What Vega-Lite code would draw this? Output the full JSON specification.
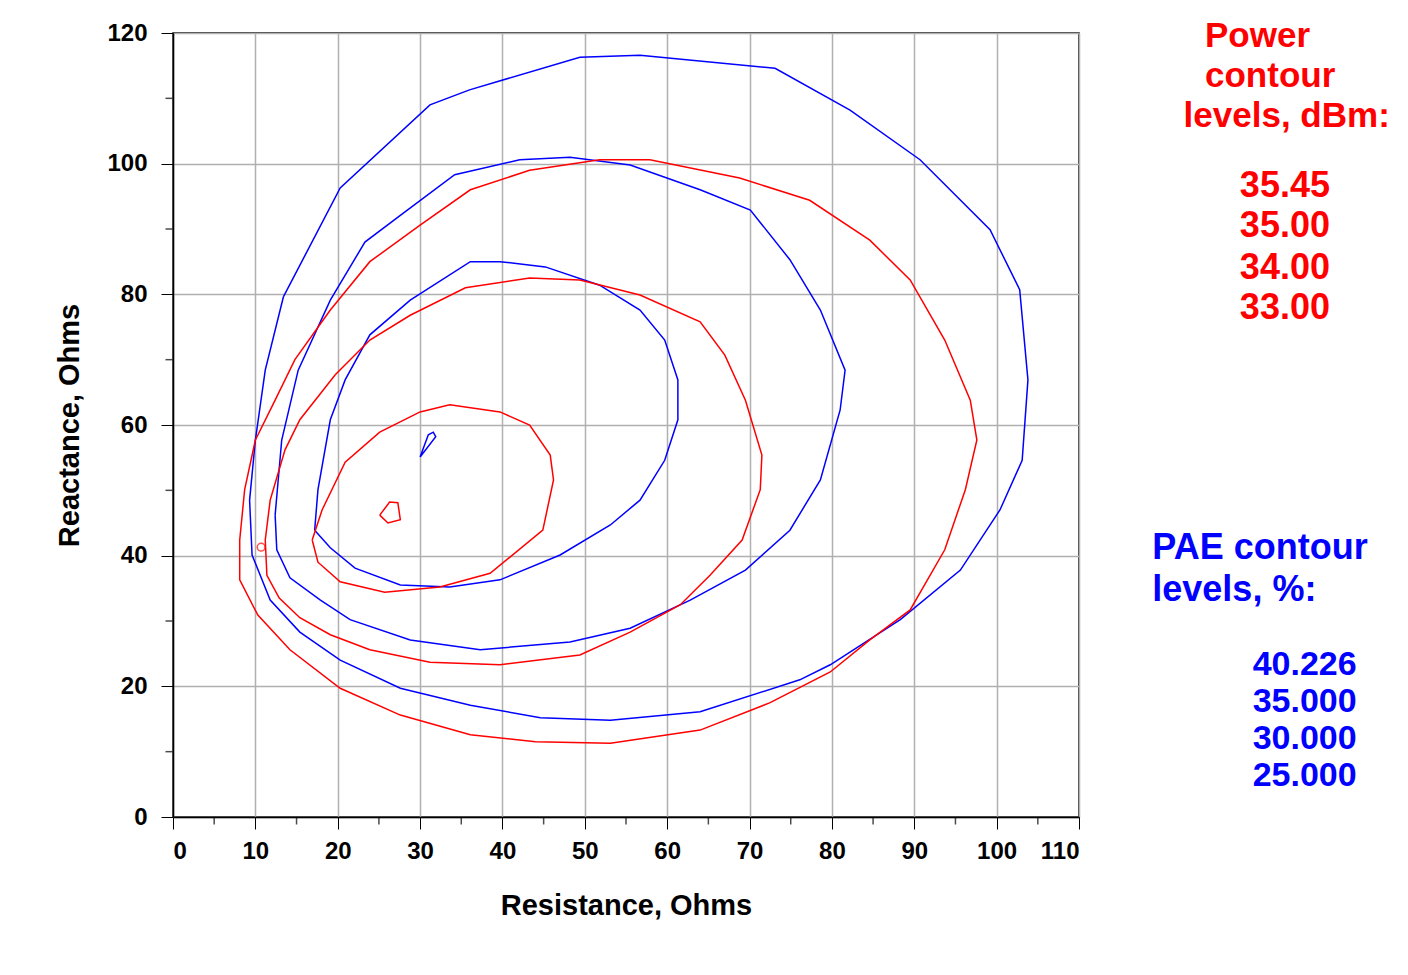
{
"$schema":"https://vega.github.io/schema/vega-lite/v6.json",
"width":906,"height":784,
"autosize":{"type":"none"},
"padding":{"left":173,"top":33,"right":329,"bottom":158},
"background":"white",
"config":{"view":{"stroke":"black","strokeWidth":1.5},"font":"Liberation Sans"},
"datasets":{
"contours":[
{"c":"b25","i":0,"x":13.4,"y":79.6},{"c":"b25","i":1,"x":20.3,"y":96.3},{"c":"b25","i":2,"x":31.2,"y":109},{"c":"b25","i":3,"x":36,"y":111.3},{"c":"b25","i":4,"x":49.4,"y":116.3},{"c":"b25","i":5,"x":56.7,"y":116.6},{"c":"b25","i":6,"x":73.1,"y":114.6},{"c":"b25","i":7,"x":82.2,"y":108.2},{"c":"b25","i":8,"x":90.7,"y":100.6},{"c":"b25","i":9,"x":99.2,"y":89.9},{"c":"b25","i":10,"x":102.8,"y":80.7},{"c":"b25","i":11,"x":103.8,"y":66.9},{"c":"b25","i":12,"x":103.1,"y":54.6},{"c":"b25","i":13,"x":100.4,"y":47},{"c":"b25","i":14,"x":95.6,"y":37.8},{"c":"b25","i":15,"x":88.3,"y":30.2},{"c":"b25","i":16,"x":79.8,"y":23.3},{"c":"b25","i":17,"x":76.1,"y":21},{"c":"b25","i":18,"x":64,"y":16.1},{"c":"b25","i":19,"x":53.1,"y":14.8},{"c":"b25","i":20,"x":44.6,"y":15.2},{"c":"b25","i":21,"x":36.1,"y":17.1},{"c":"b25","i":22,"x":27.6,"y":19.7},{"c":"b25","i":23,"x":20.3,"y":24},{"c":"b25","i":24,"x":15.4,"y":28.3},{"c":"b25","i":25,"x":11.8,"y":33.2},{"c":"b25","i":26,"x":9.6,"y":40.1},{"c":"b25","i":27,"x":9.3,"y":48.5},{"c":"b25","i":28,"x":10,"y":57.7},{"c":"b25","i":29,"x":11.2,"y":68.4},{"c":"b25","i":30,"x":13.4,"y":79.6},
{"c":"b30","i":0,"x":12.4,"y":46.2},{"c":"b30","i":1,"x":13.2,"y":57.7},{"c":"b30","i":2,"x":15.2,"y":68.4},{"c":"b30","i":3,"x":19.1,"y":79.1},{"c":"b30","i":4,"x":23.3,"y":88},{"c":"b30","i":5,"x":27.6,"y":92.1},{"c":"b30","i":6,"x":34.2,"y":98.3},{"c":"b30","i":7,"x":42.1,"y":100.6},{"c":"b30","i":8,"x":48.2,"y":101},{"c":"b30","i":9,"x":55.5,"y":99.8},{"c":"b30","i":10,"x":64,"y":96},{"c":"b30","i":11,"x":70.1,"y":92.9},{"c":"b30","i":12,"x":74.9,"y":85.3},{"c":"b30","i":13,"x":78.6,"y":77.6},{"c":"b30","i":14,"x":81.6,"y":68.4},{"c":"b30","i":15,"x":81,"y":62.3},{"c":"b30","i":16,"x":78.6,"y":51.6},{"c":"b30","i":17,"x":74.9,"y":43.9},{"c":"b30","i":18,"x":69.5,"y":37.8},{"c":"b30","i":19,"x":62.8,"y":33.2},{"c":"b30","i":20,"x":55.5,"y":28.9},{"c":"b30","i":21,"x":48.2,"y":26.8},{"c":"b30","i":22,"x":37.3,"y":25.6},{"c":"b30","i":23,"x":28.8,"y":27.1},{"c":"b30","i":24,"x":21.5,"y":30.2},{"c":"b30","i":25,"x":17.9,"y":33.2},{"c":"b30","i":26,"x":14.2,"y":36.6},{"c":"b30","i":27,"x":12.6,"y":40.9},{"c":"b30","i":28,"x":12.4,"y":46.2},
{"c":"b35","i":0,"x":17.2,"y":43.9},{"c":"b35","i":1,"x":17.6,"y":50.1},{"c":"b35","i":2,"x":19.1,"y":60.8},{"c":"b35","i":3,"x":20.9,"y":66.9},{"c":"b35","i":4,"x":23.9,"y":73.8},{"c":"b35","i":5,"x":28.8,"y":79.1},{"c":"b35","i":6,"x":36.1,"y":85},{"c":"b35","i":7,"x":39.7,"y":85},{"c":"b35","i":8,"x":45.2,"y":84.2},{"c":"b35","i":9,"x":51.8,"y":81.4},{"c":"b35","i":10,"x":56.7,"y":77.6},{"c":"b35","i":11,"x":59.7,"y":73},{"c":"b35","i":12,"x":61.3,"y":66.9},{"c":"b35","i":13,"x":61.3,"y":60.8},{"c":"b35","i":14,"x":59.7,"y":54.6},{"c":"b35","i":15,"x":56.7,"y":48.5},{"c":"b35","i":16,"x":53.1,"y":44.7},{"c":"b35","i":17,"x":47,"y":40.1},{"c":"b35","i":18,"x":39.7,"y":36.3},{"c":"b35","i":19,"x":33.6,"y":35.2},{"c":"b35","i":20,"x":27.6,"y":35.5},{"c":"b35","i":21,"x":22.1,"y":38.1},{"c":"b35","i":22,"x":19.1,"y":41.2},{"c":"b35","i":23,"x":17.2,"y":43.9},
{"c":"b40","i":0,"x":30,"y":55.1},{"c":"b40","i":1,"x":31,"y":58.5},{"c":"b40","i":2,"x":31.6,"y":58.9},{"c":"b40","i":3,"x":31.9,"y":58.2},{"c":"b40","i":4,"x":30,"y":55.1},
{"c":"r33","i":0,"x":10,"y":57.7},{"c":"r33","i":1,"x":12.4,"y":63.8},{"c":"r33","i":2,"x":14.8,"y":70},{"c":"r33","i":3,"x":19.1,"y":77.6},{"c":"r33","i":4,"x":23.9,"y":85},{"c":"r33","i":5,"x":30,"y":90.6},{"c":"r33","i":6,"x":36.1,"y":96},{"c":"r33","i":7,"x":43.3,"y":99},{"c":"r33","i":8,"x":51.8,"y":100.6},{"c":"r33","i":9,"x":57.9,"y":100.6},{"c":"r33","i":10,"x":68.8,"y":97.8},{"c":"r33","i":11,"x":77.3,"y":94.4},{"c":"r33","i":12,"x":84.6,"y":88.3},{"c":"r33","i":13,"x":89.5,"y":82.2},{"c":"r33","i":14,"x":93.7,"y":73},{"c":"r33","i":15,"x":96.8,"y":63.8},{"c":"r33","i":16,"x":97.6,"y":57.7},{"c":"r33","i":17,"x":96.2,"y":50.1},{"c":"r33","i":18,"x":93.7,"y":40.9},{"c":"r33","i":19,"x":89.5,"y":31.7},{"c":"r33","i":20,"x":84.6,"y":27.1},{"c":"r33","i":21,"x":79.8,"y":22.2},{"c":"r33","i":22,"x":72.5,"y":17.5},{"c":"r33","i":23,"x":64,"y":13.3},{"c":"r33","i":24,"x":53.1,"y":11.3},{"c":"r33","i":25,"x":44,"y":11.5},{"c":"r33","i":26,"x":36.1,"y":12.6},{"c":"r33","i":27,"x":27.6,"y":15.6},{"c":"r33","i":28,"x":20.3,"y":19.7},{"c":"r33","i":29,"x":14.2,"y":25.6},{"c":"r33","i":30,"x":10.3,"y":30.9},{"c":"r33","i":31,"x":8.1,"y":36.3},{"c":"r33","i":32,"x":8.1,"y":42.4},{"c":"r33","i":33,"x":8.7,"y":50.1},{"c":"r33","i":34,"x":10,"y":57.7},
{"c":"r34","i":0,"x":11.2,"y":42.4},{"c":"r34","i":1,"x":11.8,"y":48.5},{"c":"r34","i":2,"x":13.6,"y":56.2},{"c":"r34","i":3,"x":15.4,"y":60.8},{"c":"r34","i":4,"x":19.7,"y":67.7},{"c":"r34","i":5,"x":23.9,"y":73},{"c":"r34","i":6,"x":28.8,"y":76.8},{"c":"r34","i":7,"x":35.5,"y":81},{"c":"r34","i":8,"x":43.3,"y":82.5},{"c":"r34","i":9,"x":49.4,"y":82.2},{"c":"r34","i":10,"x":56.7,"y":79.9},{"c":"r34","i":11,"x":64,"y":75.8},{"c":"r34","i":12,"x":67,"y":70.7},{"c":"r34","i":13,"x":69.5,"y":63.8},{"c":"r34","i":14,"x":71.5,"y":55.4},{"c":"r34","i":15,"x":71.3,"y":50.1},{"c":"r34","i":16,"x":69.1,"y":42.4},{"c":"r34","i":17,"x":65.2,"y":37},{"c":"r34","i":18,"x":61.6,"y":32.5},{"c":"r34","i":19,"x":55.5,"y":28.3},{"c":"r34","i":20,"x":49.4,"y":24.8},{"c":"r34","i":21,"x":39.7,"y":23.3},{"c":"r34","i":22,"x":31.2,"y":23.7},{"c":"r34","i":23,"x":23.9,"y":25.6},{"c":"r34","i":24,"x":19.1,"y":27.9},{"c":"r34","i":25,"x":15.4,"y":30.5},{"c":"r34","i":26,"x":12.9,"y":33.5},{"c":"r34","i":27,"x":11.4,"y":37},{"c":"r34","i":28,"x":11.2,"y":42.4},
{"c":"r35","i":0,"x":16.9,"y":42.4},{"c":"r35","i":1,"x":18.1,"y":47},{"c":"r35","i":2,"x":20.9,"y":54.3},{"c":"r35","i":3,"x":25.1,"y":58.9},{"c":"r35","i":4,"x":30,"y":62},{"c":"r35","i":5,"x":33.6,"y":63.1},{"c":"r35","i":6,"x":39.7,"y":62},{"c":"r35","i":7,"x":43.3,"y":60},{"c":"r35","i":8,"x":45.8,"y":55.4},{"c":"r35","i":9,"x":46.2,"y":51.6},{"c":"r35","i":10,"x":44.9,"y":43.9},{"c":"r35","i":11,"x":38.5,"y":37.3},{"c":"r35","i":12,"x":32.4,"y":35.2},{"c":"r35","i":13,"x":25.7,"y":34.4},{"c":"r35","i":14,"x":20.3,"y":36},{"c":"r35","i":15,"x":17.6,"y":39},{"c":"r35","i":16,"x":16.9,"y":42.4},
{"c":"r3545","i":0,"x":25.1,"y":46.2},{"c":"r3545","i":1,"x":26.3,"y":48.2},{"c":"r3545","i":2,"x":27.3,"y":48.1},{"c":"r3545","i":3,"x":27.6,"y":45.5},{"c":"r3545","i":4,"x":26.1,"y":45},{"c":"r3545","i":5,"x":25.1,"y":46.2}
],
"minorx":[{"x":5},{"x":15},{"x":25},{"x":35},{"x":45},{"x":55},{"x":65},{"x":75},{"x":85},{"x":95},{"x":105}],
"minory":[{"y":10},{"y":30},{"y":50},{"y":70},{"y":90},{"y":110}]
},
"layer":[
{"data":{"name":"contours"},"mark":{"type":"line","strokeWidth":1.5},
 "encoding":{
  "x":{"field":"x","type":"quantitative","scale":{"domain":[0,110],"nice":false},
   "axis":{"values":[0,10,20,30,40,50,60,70,80,90,100,110],"title":"Resistance, Ohms","titleFontSize":29,"titleFontWeight":"bold","titleColor":"black","titlePadding":28,"labelFontSize":24,"labelFontWeight":"bold","labelColor":"black","labelPadding":10,"tickSize":12,"tickColor":"black","domainColor":"black","domainWidth":1.5,"gridColor":"#b0b0b0","gridOpacity":1,"gridWidth":1.5}},
  "y":{"field":"y","type":"quantitative","scale":{"domain":[0,120],"nice":false},
   "axis":{"values":[0,20,40,60,80,100,120],"title":"Reactance, Ohms","titleFontSize":29,"titleFontWeight":"bold","titleColor":"black","titlePadding":22,"labelFontSize":24,"labelFontWeight":"bold","labelColor":"black","labelPadding":14,"tickSize":12,"tickColor":"black","domainColor":"black","domainWidth":1.5,"gridColor":"#b0b0b0","gridOpacity":1,"gridWidth":1.5}},
  "detail":{"field":"c"},
  "order":{"field":"i","type":"quantitative"},
  "color":{"field":"c","type":"nominal","legend":null,
   "scale":{"domain":["b25","b30","b35","b40","r33","r34","r35","r3545"],"range":["#0000ff","#0000ff","#0000ff","#0000ff","#ff0000","#ff0000","#ff0000","#ff0000"]}}}},
{"data":{"values":[{"x":10.7,"y":41.3}]},"mark":{"type":"point","shape":"circle","size":60,"color":"#ff0000","strokeWidth":1.5},
 "encoding":{"x":{"field":"x","type":"quantitative"},"y":{"field":"y","type":"quantitative"}}},
{"data":{"name":"minorx"},"mark":{"type":"tick","orient":"vertical","size":7,"color":"black","yOffset":4,"clip":false,"thickness":1.5},
 "encoding":{"x":{"field":"x","type":"quantitative"},"y":{"datum":0,"type":"quantitative"}}},
{"data":{"name":"minory"},"mark":{"type":"tick","orient":"horizontal","size":7,"color":"black","xOffset":-4,"clip":false,"thickness":1.5},
 "encoding":{"y":{"field":"y","type":"quantitative"},"x":{"datum":0,"type":"quantitative"}}},
{"data":{"values":[{"t":"Power","x":125.3,"y":119.5},{"t":"contour","x":125.3,"y":113.4},{"t":"levels, dBm:","x":122.7,"y":107.3}]},
 "mark":{"type":"text","align":"left","baseline":"middle","fontSize":35,"fontWeight":"bold","color":"#ff0000","clip":false},
 "encoding":{"x":{"field":"x","type":"quantitative"},"y":{"field":"y","type":"quantitative"},"text":{"field":"t"}}},
{"data":{"values":[{"t":"35.45","x":135,"y":96.6},{"t":"35.00","x":135,"y":90.4},{"t":"34.00","x":135,"y":84.1},{"t":"33.00","x":135,"y":77.9}]},
 "mark":{"type":"text","align":"center","baseline":"middle","fontSize":36,"fontWeight":"bold","color":"#ff0000","clip":false},
 "encoding":{"x":{"field":"x","type":"quantitative"},"y":{"field":"y","type":"quantitative"},"text":{"field":"t"}}},
{"data":{"values":[{"t":"PAE contour","x":118.9,"y":41.2},{"t":"levels, %:","x":118.9,"y":34.7}]},
 "mark":{"type":"text","align":"left","baseline":"middle","fontSize":36,"fontWeight":"bold","color":"#0000ff","clip":false},
 "encoding":{"x":{"field":"x","type":"quantitative"},"y":{"field":"y","type":"quantitative"},"text":{"field":"t"}}},
{"data":{"values":[{"t":"40.226","x":137.4,"y":23.3},{"t":"35.000","x":137.4,"y":17.6},{"t":"30.000","x":137.4,"y":11.9},{"t":"25.000","x":137.4,"y":6.3}]},
 "mark":{"type":"text","align":"center","baseline":"middle","fontSize":34,"fontWeight":"bold","color":"#0000ff","clip":false},
 "encoding":{"x":{"field":"x","type":"quantitative"},"y":{"field":"y","type":"quantitative"},"text":{"field":"t"}}}
]
}
